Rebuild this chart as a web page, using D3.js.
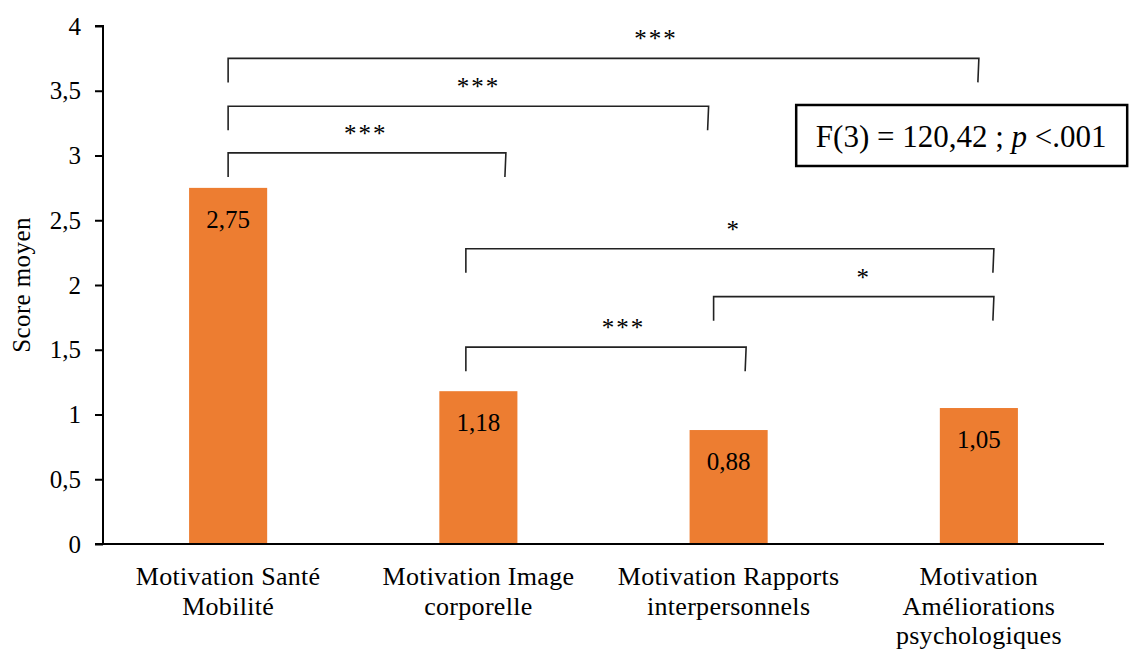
<!DOCTYPE html>
<html>
<head>
  <script src="https://d3js.org/d3.v7.min.js"></script>
  <style>
    body { margin: 0; background: #fff; }
    text { font-family: "Liberation Serif", "Times New Roman", serif; fill: #000; }
  </style>
</head>
<body>
  <div id="chart"></div>
  <script>
    const categories = [
      ["Motivation Santé", "Mobilité"],
      ["Motivation Image", "corporelle"],
      ["Motivation Rapports", "interpersonnels"],
      ["Motivation", "Améliorations", "psychologiques"]
    ];
    const scores = [2.75, 1.18, 0.88, 1.05];
    const scoreLabels = ["2,75", "1,18", "0,88", "1,05"];
    const yTicks = [0, 0.5, 1, 1.5, 2, 2.5, 3, 3.5, 4];
    const yTickLabels = ["0", "0,5", "1", "1,5", "2", "2,5", "3", "3,5", "4"];

    // significance brackets: ends given as category positions, level in score units
    const brackets = [
      { from: 0, to: 1.11, level: 3.02, stars: "***", starAt: 0.55 },
      { from: 0, to: 1.92, level: 3.38, stars: "***", starAt: 1.0 },
      { from: 0, to: 3.0, level: 3.75, stars: "***", starAt: 1.71 },
      { from: 0.95, to: 2.07, level: 1.52, stars: "***", starAt: 1.58 },
      { from: 1.94, to: 3.06, level: 1.91, stars: "*", starAt: 2.54 },
      { from: 0.95, to: 3.06, level: 2.28, stars: "*", starAt: 2.02 }
    ];
    const statText = ["F(3) = 120,42 ; ", "p", " <.001"];

    const W = 1131, H = 652;
    const margin = { top: 26, right: 27, bottom: 108, left: 103 };
    const width = W - margin.left - margin.right;
    const height = H - margin.top - margin.bottom;

    const svg = d3.select("#chart").append("svg")
      .attr("width", W)
      .attr("height", H);

    const g = svg.append("g")
      .attr("transform", `translate(${margin.left},${margin.top})`);

    const x = d3.scaleBand()
      .domain(d3.range(categories.length))
      .range([0, width])
      .paddingInner(0.688)
      .paddingOuter(0.344);

    const y = d3.scaleLinear()
      .domain([0, 4])
      .range([height, 0]);

    // category position -> pixel (centre of band)
    const xc = d3.scaleLinear()
      .domain([0, 1])
      .range([x(0) + x.bandwidth() / 2, x(1) + x.bandwidth() / 2]);

    // bars
    g.selectAll(".bar")
      .data(scores)
      .enter().append("rect")
      .attr("class", "bar")
      .attr("x", (d, i) => x(i))
      .attr("y", d => y(d))
      .attr("width", x.bandwidth())
      .attr("height", d => height - y(d))
      .attr("fill", "#ED7D31");

    g.selectAll(".val")
      .data(scores)
      .enter().append("text")
      .attr("class", "val")
      .attr("x", (d, i) => x(i) + x.bandwidth() / 2)
      .attr("y", d => y(d) + 40)
      .attr("text-anchor", "middle")
      .style("font-size", "25px")
      .text((d, i) => scoreLabels[i]);

    // y axis
    const yAxis = d3.axisLeft(y)
      .tickValues(yTicks)
      .tickFormat((d, i) => yTickLabels[i])
      .tickSize(8)
      .tickPadding(14);

    const ya = g.append("g").call(yAxis);
    ya.select(".domain").attr("stroke", "#000").attr("stroke-width", 2).attr("d", `M-8,0H0V${height}`);
    ya.selectAll(".tick line").attr("stroke", "#000").attr("stroke-width", 2);
    ya.selectAll(".tick text")
      .style("font-size", "25px")
      .style("font-family", "'Liberation Serif', serif")
      .attr("fill", "#000");

    // x axis line
    g.append("line")
      .attr("x1", -8).attr("x2", width)
      .attr("y1", height).attr("y2", height)
      .attr("stroke", "#000")
      .attr("stroke-width", 2);

    // category labels
    const cat = g.selectAll(".cat")
      .data(categories)
      .enter().append("text")
      .attr("class", "cat")
      .attr("text-anchor", "middle")
      .style("font-size", "26px")
      .style("letter-spacing", "0.3px")
      .attr("transform", (d, i) => `translate(${x(i) + x.bandwidth() / 2},${height + 41})`);

    cat.selectAll("tspan")
      .data(d => d)
      .enter().append("tspan")
      .attr("x", 0)
      .attr("dy", (d, i) => i === 0 ? 0 : 29.5)
      .text(d => d);

    // y title
    g.append("text")
      .attr("transform", `translate(${30 - margin.left},${y(2.0)}) rotate(-90)`)
      .attr("text-anchor", "middle")
      .style("font-size", "25px")
      .style("letter-spacing", "0.4px")
      .text("Score moyen");

    // brackets
    const leg = 24;
    const br = g.selectAll(".bracket")
      .data(brackets)
      .enter().append("g")
      .attr("class", "bracket");

    br.append("path")
      .attr("d", d => {
        const x1 = xc(d.from), x2 = xc(d.to), yy = y(d.level);
        return `M${x1},${yy + leg}V${yy}H${x2}L${x2 - 1},${yy + leg}`;
      })
      .attr("fill", "none")
      .attr("stroke", "#222")
      .attr("stroke-width", 1.6);

    br.append("text")
      .attr("x", d => xc(d.starAt))
      .attr("y", d => y(d.level) - 11)
      .attr("text-anchor", "middle")
      .style("font-size", "25px")
      .style("letter-spacing", "2px")
      .text(d => d.stars);

    // statistic box
    const box = g.append("g")
      .attr("transform", `translate(${xc(2.27)},${y(3.39)})`);

    box.append("rect")
      .attr("width", 331)
      .attr("height", 61)
      .attr("fill", "#fff")
      .attr("stroke", "#000")
      .attr("stroke-width", 2.5);

    const st = box.append("text")
      .attr("x", 165)
      .attr("y", 42)
      .attr("text-anchor", "middle")
      .style("font-size", "31px");
    st.append("tspan").text(statText[0]);
    st.append("tspan").style("font-style", "italic").text(statText[1]);
    st.append("tspan").text(statText[2]);
  </script>
</body>
</html>
